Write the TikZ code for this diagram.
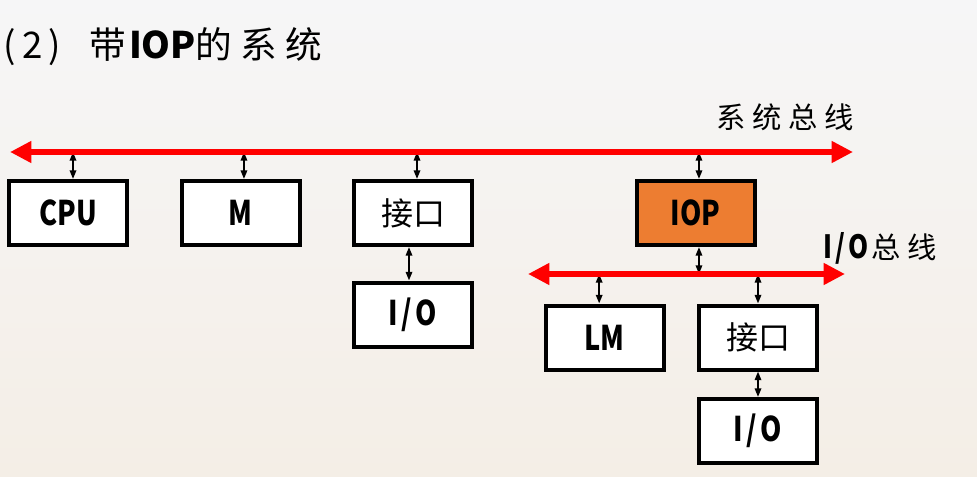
\documentclass[tikz,border=0pt]{standalone}
\usepackage{fontspec}
\newfontfamily\cjk{Noto Sans CJK SC}
\newfontfamily\latc[FakeStretch=0.8]{Noto Sans CJK SC}
\usetikzlibrary{arrows.meta,calc}
\definecolor{iopfill}{HTML}{ED7D31}
\definecolor{bgtop}{HTML}{F6F6F7}
\definecolor{bgbot}{HTML}{F4EEE6}
\begin{document}
\begin{tikzpicture}[x=0.75pt,y=-0.75pt,
  box/.style={draw=black, line width=3pt, fill=white, minimum width=88.5pt, minimum height=48pt, inner sep=0pt},
  lat/.style={font=\latc\bfseries\fontsize{25.5}{26}\selectfont},
  zh/.style={font=\cjk\fontsize{24}{26}\selectfont},
  bus/.style={draw=red, line width=5pt, {Triangle[length=16pt,width=15.5pt]}-{Triangle[length=16pt,width=15.5pt]}},
  link/.style={draw=black, line width=1.4pt, {Triangle[length=6.5pt,width=4.8pt]}-{Triangle[length=6.5pt,width=4.8pt]}},
  lbl/.style={inner sep=0pt, font=\cjk\fontsize{22}{24}\selectfont}]
\useasboundingbox (0,0) rectangle (977,477);
\shade[top color=bgtop, bottom color=bgbot] (0,0) rectangle (977,477);

% title
\node[anchor=base west, inner sep=0pt, font=\cjk\fontsize{27.5}{30}\selectfont] (title) at (3,59)
  {(\hspace{5pt}2\hspace{4pt})\hspace{22pt}带\hspace{2pt}{\bfseries IOP}的\hspace{6pt}系\hspace{6pt}统};

% bus endpoints
\coordinate (sysL) at (10,152);
\coordinate (sysR) at (853,152);
\coordinate (ioL) at (528,274);
\coordinate (ioR) at (845,274);

% boxes
\node[box, lat] (cpu) at (68,213) {CPU};
\node[box, lat] (mem) at (240.5,213) {M};
\node[box, zh]  (if1) at (413,213) {接口};
\node[box, lat] (io1) at (413,314.5) {I\hspace{2.5pt}/\hspace{2.5pt}O};
\node[box, lat, fill=iopfill] (iop) at (695.5,213) {IOP};
\node[box, lat] (lm)  at (604.5,337.5) {LM};
\node[box, zh]  (if2) at (758,337.5) {接口};
\node[box, lat] (io2) at (758,431) {I\hspace{2.5pt}/\hspace{2.5pt}O};

% bus labels
\node[lbl] (syslbl) at (785,117.5) {系\hspace{5pt}统\hspace{5pt}总\hspace{5pt}线};
\node[lbl, anchor=west] (iolbl) at (823,248) {{\latc\bfseries\fontsize{24}{26}\selectfont I\hspace{2.5pt}/\hspace{2.5pt}O}\hspace{2pt}总\hspace{5pt}线};

% links
\path ([xshift=3.75pt]cpu.north) coordinate (c1);
\path ([xshift=2.6pt]mem.north) coordinate (c2);
\path ([xshift=3pt]if1.north) coordinate (c3);
\path ([xshift=2.6pt]iop.north) coordinate (c4);
\path ([xshift=-3pt]if1.south) coordinate (c5);
\path ([xshift=2.6pt]iop.south) coordinate (c6);
\path ([xshift=-4pt]lm.north) coordinate (c7);
\path (if2.north) coordinate (c8);
\draw[link] (c1) -- (c1 |- sysL);
\draw[link] (c2) -- (c2 |- sysL);
\draw[link] (c3) -- (c3 |- sysL);
\draw[link] (c4) -- (c4 |- sysL);
\draw[link] (c5) -- (c5 |- io1.north);
\draw[link] (c6) -- (c6 |- ioL);
\draw[link] (c7) -- (c7 |- ioL);
\draw[link] (c8) -- (c8 |- ioL);
\draw[link] (if2.south) -- (io2.north);

% buses
\draw[bus] (sysL) -- (sysR);
\draw[bus] (ioL) -- (ioR);
\end{tikzpicture}
\end{document}
